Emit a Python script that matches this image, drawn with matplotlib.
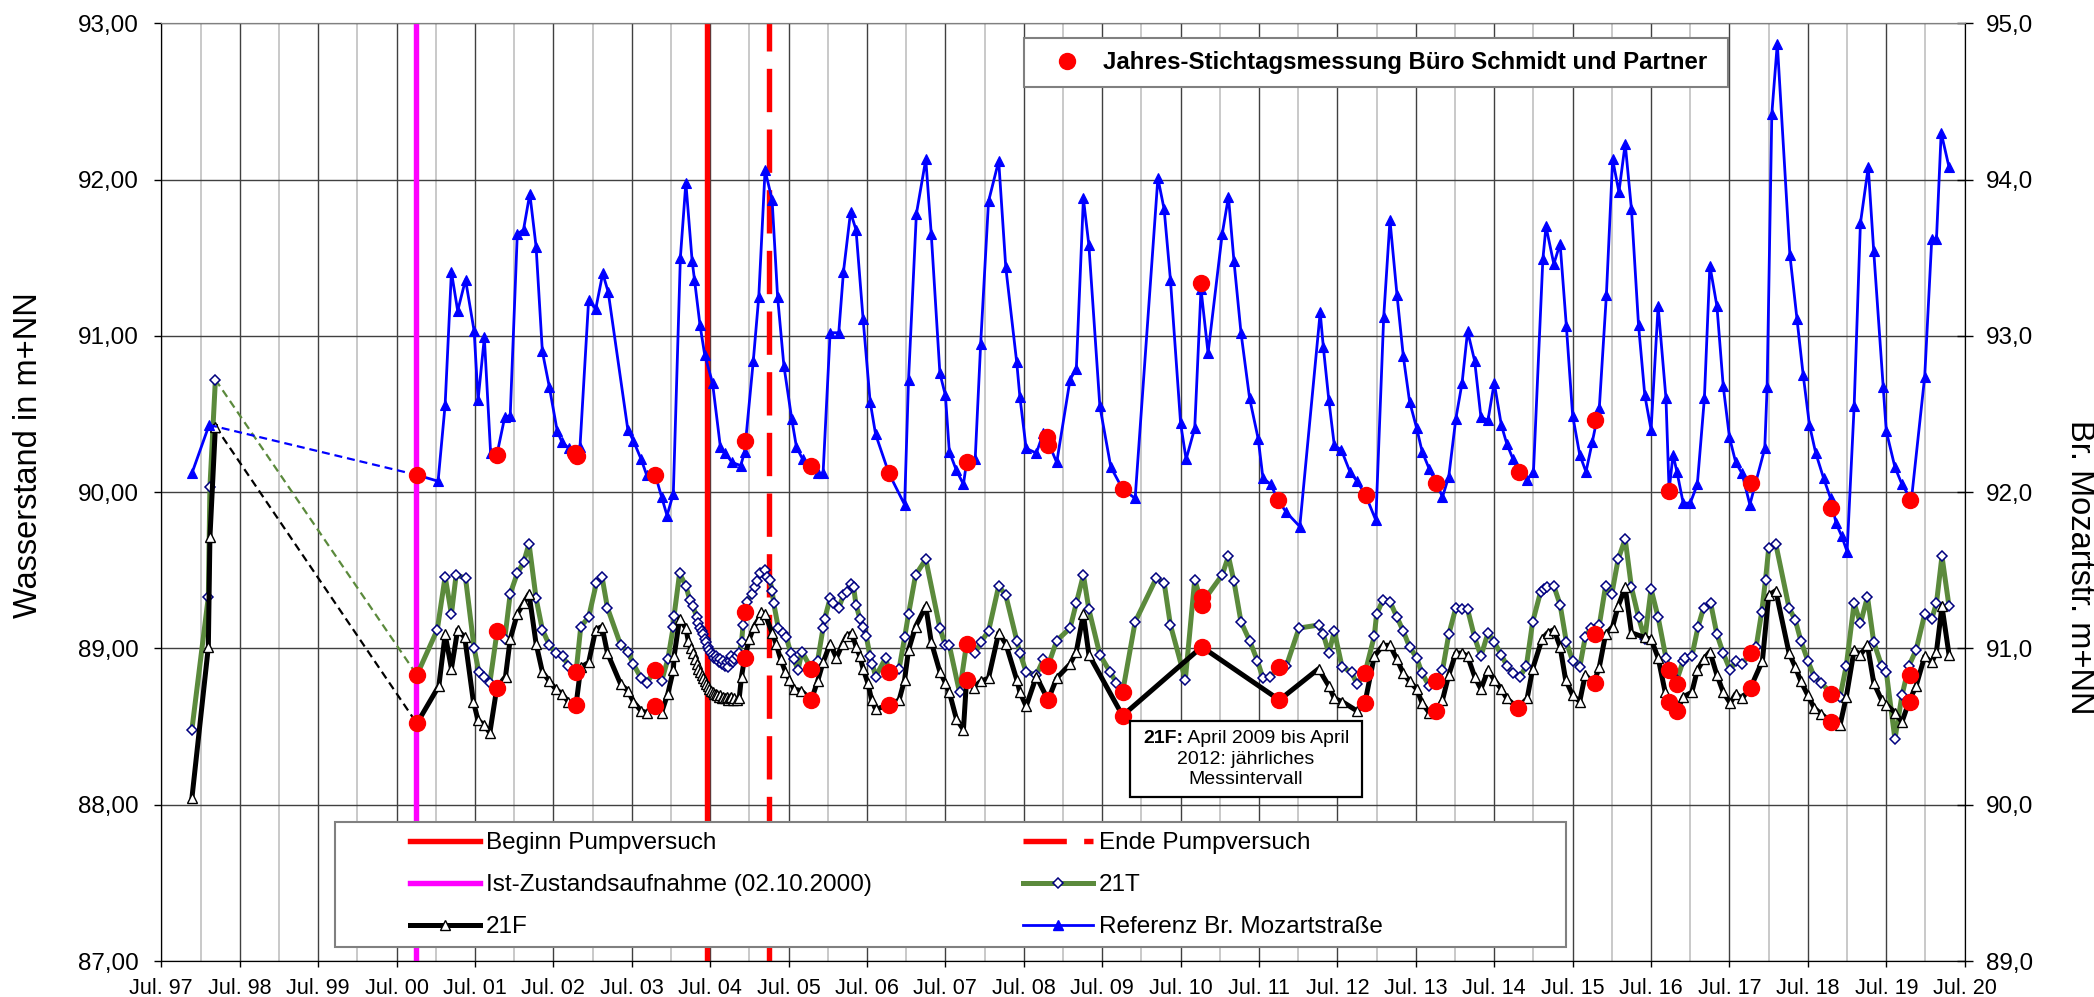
import numpy as np
import matplotlib
matplotlib.use("Agg")
import matplotlib.pyplot as plt
from matplotlib.lines import Line2D
from matplotlib.patches import Rectangle

plt.rcParams['font.family'] = ['Liberation Sans', 'DejaVu Sans']

# ---------------- data (decimal years) ----------------
x_tick_labels = ["Jul. 97", "Jul. 98", "Jul. 99", "Jul. 00", "Jul. 01", "Jul. 02", "Jul. 03",
                 "Jul. 04", "Jul. 05", "Jul. 06", "Jul. 07", "Jul. 08", "Jul. 09", "Jul. 10",
                 "Jul. 11", "Jul. 12", "Jul. 13", "Jul. 14", "Jul. 15", "Jul. 16", "Jul. 17",
                 "Jul. 18", "Jul. 19", "Jul. 20"]

ist_zustand = 2000.751   # 02.10.2000
beginn_pv = 2004.465
ende_pv = 2005.25

# Referenz Br. Mozartstrasse (right axis)
t_ref = [1997.89, 1998.11, 2000.76, 2001.03, 2001.12, 2001.20, 2001.28, 2001.38, 2001.49, 2001.54, 2001.62, 2001.70, 2001.78, 2001.88, 2001.95,
         2002.04, 2002.12, 2002.20, 2002.28, 2002.36, 2002.45, 2002.55, 2002.61, 2002.70, 2002.80, 2002.84, 2002.95,
         2003.04, 2003.13, 2003.20, 2003.45, 2003.52, 2003.62, 2003.69, 2003.80, 2003.88, 2003.95,
         2004.03, 2004.12, 2004.19, 2004.27, 2004.30, 2004.37, 2004.43, 2004.53, 2004.63, 2004.69, 2004.78, 2004.89, 2004.94,
         2005.05, 2005.12, 2005.20, 2005.29, 2005.36, 2005.44, 2005.54, 2005.60, 2005.68, 2005.79, 2005.87, 2005.94,
         2006.03, 2006.14, 2006.20, 2006.29, 2006.36, 2006.45, 2006.54, 2006.61, 2006.78, 2006.98,
         2007.03, 2007.13, 2007.25, 2007.32, 2007.43, 2007.50, 2007.55, 2007.64, 2007.73, 2007.77, 2007.88, 2007.95,
         2008.05, 2008.18, 2008.27, 2008.41, 2008.45, 2008.53, 2008.66, 2008.75, 2008.81, 2008.92,
         2009.09, 2009.17, 2009.26, 2009.33, 2009.47, 2009.61, 2009.76, 2009.92,
         2010.21, 2010.29, 2010.37, 2010.50, 2010.57, 2010.68, 2010.76, 2010.85,
         2011.03, 2011.11, 2011.18, 2011.27, 2011.38, 2011.49, 2011.55, 2011.65, 2011.74, 2011.85,
         2012.02, 2012.28, 2012.32, 2012.39, 2012.46, 2012.55, 2012.66, 2012.75, 2012.86, 2012.99,
         2013.09, 2013.17, 2013.26, 2013.34, 2013.42, 2013.51, 2013.58, 2013.67, 2013.76, 2013.84, 2013.92,
         2014.01, 2014.09, 2014.16, 2014.25, 2014.33, 2014.42, 2014.50, 2014.59, 2014.66, 2014.74, 2014.81, 2014.92,
         2015.00, 2015.12, 2015.16, 2015.26, 2015.34, 2015.42, 2015.50, 2015.59, 2015.67, 2015.75, 2015.84, 2015.93,
         2016.01, 2016.09, 2016.17, 2016.25, 2016.34, 2016.42, 2016.50, 2016.59, 2016.69, 2016.73, 2016.78, 2016.83, 2016.91, 2017.00,
         2017.09, 2017.18, 2017.25, 2017.34, 2017.42, 2017.50, 2017.58, 2017.66, 2017.76, 2017.95, 2017.98,
         2018.04, 2018.11, 2018.27, 2018.36, 2018.44, 2018.52, 2018.60, 2018.70, 2018.79, 2018.86, 2018.93,
         2019.00, 2019.09, 2019.17, 2019.27, 2019.34, 2019.46, 2019.50, 2019.61, 2019.70, 2019.82, 2019.99,
         2020.08, 2020.14, 2020.20, 2020.30]
v_ref = [92.12, 92.43, 92.11, 92.07, 92.56, 93.41, 93.16, 93.36, 93.03, 92.59, 92.99, 92.25, 92.24, 92.48, 92.49,
         93.65, 93.68, 93.91, 93.57, 92.90, 92.67, 92.39, 92.32, 92.28, 92.23, 92.29, 93.23,
         93.17, 93.40, 93.28, 92.40, 92.33, 92.21, 92.11, 92.11, 91.97, 91.85,
         91.99, 93.50, 93.98, 93.48, 93.36, 93.07, 92.88, 92.70, 92.29, 92.25, 92.19, 92.17, 92.26,
         92.84, 93.25, 94.06, 93.87, 93.25, 92.81, 92.47, 92.29, 92.21, 92.17, 92.12, 92.12,
         93.02, 93.02, 93.41, 93.79, 93.68, 93.11, 92.58, 92.37, 92.12, 91.92,
         92.72, 93.78, 94.13, 93.65, 92.76, 92.62, 92.26, 92.14, 92.05, 92.19, 92.21, 92.95,
         93.86, 94.12, 93.44, 92.83, 92.61, 92.28, 92.25, 92.38, 92.32, 92.19,
         92.72, 92.79, 93.88, 93.58, 92.55, 92.16, 92.02, 91.96,
         94.01, 93.81, 93.36, 92.44, 92.21, 92.41, 93.30, 92.89,
         93.65, 93.89, 93.48, 93.02, 92.60, 92.34, 92.09, 92.05, 91.95, 91.87,
         91.78, 93.15, 92.93, 92.59, 92.30, 92.27, 92.13, 92.07, 91.98, 91.82,
         93.12, 93.74, 93.26, 92.87, 92.58, 92.41, 92.26, 92.15, 92.06, 91.97, 92.10,
         92.47, 92.70, 93.03, 92.84, 92.48, 92.46, 92.70, 92.43, 92.31, 92.21, 92.13, 92.08,
         92.13, 93.49, 93.70, 93.46, 93.59, 93.06, 92.49, 92.24, 92.13, 92.32, 92.54, 93.26,
         94.13, 93.92, 94.23, 93.81, 93.07, 92.62, 92.40, 93.19, 92.60, 92.01, 92.24, 92.13, 91.93, 91.93,
         92.05, 92.60, 93.45, 93.19, 92.68, 92.35, 92.19, 92.12, 91.92, 92.28, 92.67,
         94.42, 94.87, 93.52, 93.11, 92.75, 92.43, 92.25, 92.09, 91.96, 91.80, 91.72,
         91.62, 92.55, 93.72, 94.08, 93.54, 92.67, 92.39, 92.16, 92.05, 91.95, 92.74,
         93.62, 93.62, 94.30, 94.08]

# 21T (left axis)
t_21t = [1997.89, 1998.10, 1998.12, 1998.19,
         2000.76, 2001.02, 2001.12, 2001.20, 2001.26, 2001.38, 2001.49, 2001.55, 2001.62, 2001.69, 2001.78, 2001.88, 2001.95,
         2002.04, 2002.12, 2002.19, 2002.28, 2002.36, 2002.45, 2002.53, 2002.62, 2002.69, 2002.79, 2002.85, 2002.95,
         2003.05, 2003.12, 2003.19, 2003.36, 2003.45, 2003.52, 2003.62, 2003.69, 2003.80, 2003.88, 2003.96,
         2004.03, 2004.04, 2004.11, 2004.19, 2004.24, 2004.28, 2004.33, 2004.35, 2004.37, 2004.39, 2004.41, 2004.43,
         2004.45, 2004.47, 2004.49, 2004.51, 2004.53, 2004.55, 2004.57, 2004.59, 2004.61, 2004.63, 2004.65, 2004.67,
         2004.69, 2004.71, 2004.73, 2004.75, 2004.77, 2004.79, 2004.81, 2004.84, 2004.87, 2004.90, 2004.92, 2004.94, 2004.97,
         2005.03, 2005.07, 2005.10, 2005.14, 2005.20, 2005.23, 2005.26, 2005.29, 2005.31, 2005.37, 2005.43, 2005.47,
         2005.53, 2005.57, 2005.62, 2005.67, 2005.79, 2005.87, 2005.94, 2005.96,
         2006.03, 2006.07, 2006.14, 2006.20, 2006.24, 2006.29, 2006.33, 2006.36, 2006.41, 2006.45, 2006.49, 2006.54,
         2006.57, 2006.61, 2006.74, 2006.78, 2006.91, 2006.98,
         2007.03, 2007.12, 2007.25, 2007.43, 2007.50, 2007.55, 2007.68, 2007.77, 2007.88, 2007.95,
         2008.05, 2008.18, 2008.27, 2008.41, 2008.45, 2008.53, 2008.66, 2008.75, 2008.81, 2008.92,
         2009.09, 2009.17, 2009.26, 2009.33, 2009.47, 2009.60, 2009.68, 2009.76, 2009.92,
         2010.19, 2010.29, 2010.37, 2010.56, 2010.68, 2010.77,
         2011.03, 2011.11, 2011.18, 2011.27, 2011.38, 2011.48, 2011.55, 2011.64, 2011.76, 2011.85,
         2012.01, 2012.26, 2012.32, 2012.39, 2012.46, 2012.56, 2012.68, 2012.75, 2012.85, 2012.97,
         2013.00, 2013.08, 2013.17, 2013.26, 2013.34, 2013.42, 2013.51, 2013.58, 2013.67, 2013.76, 2013.84, 2013.92,
         2014.01, 2014.09, 2014.16, 2014.25, 2014.33, 2014.42, 2014.50, 2014.59, 2014.66, 2014.74, 2014.83, 2014.91, 2014.99,
         2015.09, 2015.13, 2015.17, 2015.26, 2015.34, 2015.42, 2015.50, 2015.59, 2015.66, 2015.73, 2015.84, 2015.92,
         2016.00, 2016.08, 2016.17, 2016.25, 2016.34, 2016.42, 2016.50, 2016.59, 2016.69, 2016.76, 2016.83, 2016.91, 2016.93,
         2017.02, 2017.10, 2017.17, 2017.26, 2017.34, 2017.42, 2017.51, 2017.58, 2017.66, 2017.77, 2017.84, 2017.91, 2017.96,
         2018.00, 2018.09, 2018.26, 2018.34, 2018.41, 2018.50, 2018.58, 2018.67, 2018.80, 2018.91, 2018.99,
         2019.09, 2019.17, 2019.26, 2019.34, 2019.44, 2019.50, 2019.61, 2019.70, 2019.79, 2019.88, 2019.99,
         2020.08, 2020.14, 2020.21, 2020.30]
v_21t = [88.48, 89.33, 90.03, 90.72,
         88.83, 89.12, 89.46, 89.22, 89.47, 89.45, 89.00, 88.85, 88.82, 88.78, 89.10, 89.06, 89.35,
         89.48, 89.55, 89.67, 89.32, 89.12, 89.02, 88.97, 88.95, 88.89, 88.85, 89.14, 89.20,
         89.42, 89.46, 89.26, 89.02, 88.98, 88.90, 88.81, 88.78, 88.86, 88.79, 88.93,
         89.14, 89.21, 89.48, 89.40, 89.31, 89.27, 89.20, 89.16, 89.13, 89.11, 89.09, 89.06,
         89.04, 89.01, 88.99, 88.97, 88.96, 88.94, 88.95, 88.93, 88.91, 88.93, 88.90, 88.92,
         88.89, 88.91, 88.88, 88.92, 88.95, 88.91, 88.93, 88.95, 88.97, 89.04, 89.15, 89.23, 89.30,
         89.35, 89.39, 89.43, 89.48, 89.50, 89.46, 89.44, 89.37, 89.29, 89.13, 89.10, 89.07,
         88.97, 88.93, 88.86, 88.98, 88.87, 88.92, 89.13, 89.19,
         89.32, 89.29, 89.26, 89.34, 89.36, 89.41, 89.39, 89.28, 89.19, 89.14, 89.08, 88.95,
         88.90, 88.82, 88.94, 88.85, 88.87, 89.07,
         89.22, 89.47, 89.57, 89.13, 89.02, 89.02, 88.72, 89.03, 88.97, 89.04,
         89.11, 89.40, 89.34, 89.05, 88.97, 88.85, 88.83, 88.93, 88.89, 89.05,
         89.13, 89.29, 89.47, 89.25, 88.96, 88.85, 88.78, 88.72, 89.17,
         89.45, 89.42, 89.15, 88.80, 89.44, 89.29,
         89.47, 89.59, 89.43, 89.17, 89.05, 88.92, 88.81, 88.82, 88.88, 88.89,
         89.13, 89.15, 89.09, 88.97, 89.11, 88.88, 88.85, 88.77, 88.84, 89.08,
         89.22, 89.31, 89.30, 89.20, 89.11, 89.01, 88.94, 88.84, 88.76, 88.79, 88.86, 89.09,
         89.26, 89.25, 89.25, 89.07, 88.95, 89.10, 89.04, 88.96, 88.89, 88.84, 88.82, 88.89, 89.17,
         89.36, 89.38, 89.39, 89.40, 89.28, 89.04, 88.92, 88.88, 89.07, 89.13, 89.15, 89.40,
         89.35, 89.57, 89.70, 89.39, 89.20, 89.06, 89.38, 89.20, 88.94, 88.84, 88.80, 88.92, 88.94,
         88.95, 89.14, 89.26, 89.29, 89.09, 88.97, 88.86, 88.92, 88.90, 88.97, 89.01, 89.23, 89.44,
         89.64, 89.67, 89.26, 89.18, 89.05, 88.92, 88.82, 88.78, 88.71, 88.69, 88.89,
         89.29, 89.16, 89.33, 89.04, 88.89, 88.85, 88.42, 88.70, 88.89, 88.99, 89.22,
         89.19, 89.29, 89.59, 89.27]

# 21F (left axis)
t_21f = [1997.89, 1998.10, 1998.12, 1998.19,
         2000.76, 2001.04, 2001.12, 2001.20, 2001.28, 2001.37, 2001.48, 2001.54, 2001.62, 2001.69, 2001.78, 2001.89, 2001.95,
         2002.04, 2002.12, 2002.19, 2002.28, 2002.36, 2002.45, 2002.53, 2002.61, 2002.69, 2002.79, 2002.85, 2002.95,
         2003.04, 2003.12, 2003.19, 2003.36, 2003.45, 2003.52, 2003.62, 2003.69, 2003.80, 2003.88, 2003.96,
         2004.03, 2004.04, 2004.11, 2004.19, 2004.22, 2004.25, 2004.28, 2004.31, 2004.33, 2004.35, 2004.37, 2004.39,
         2004.41, 2004.43, 2004.45, 2004.47, 2004.49, 2004.51, 2004.53, 2004.55, 2004.57, 2004.59, 2004.61, 2004.63,
         2004.65, 2004.67, 2004.69, 2004.71, 2004.73, 2004.75, 2004.77, 2004.79, 2004.81, 2004.84, 2004.87, 2004.90, 2004.94,
         2005.00, 2005.06, 2005.12, 2005.15, 2005.20, 2005.29, 2005.34, 2005.40, 2005.46, 2005.51, 2005.57, 2005.66,
         2005.79, 2005.87, 2005.94,
         2006.03, 2006.11, 2006.19, 2006.24, 2006.31, 2006.36, 2006.41, 2006.45, 2006.51, 2006.56, 2006.61, 2006.78,
         2006.91, 2006.98,
         2007.03, 2007.12, 2007.25, 2007.32, 2007.43, 2007.50, 2007.55, 2007.64, 2007.73, 2007.77, 2007.86, 2007.95,
         2008.05, 2008.18, 2008.27, 2008.41, 2008.45, 2008.53, 2008.66, 2008.81, 2008.92,
         2009.09, 2009.17, 2009.26, 2009.33, 2009.76, 2010.77, 2011.76,
         2012.26, 2012.39, 2012.46, 2012.56, 2012.75, 2012.85, 2012.97,
         2013.08, 2013.17, 2013.26, 2013.34, 2013.42, 2013.51, 2013.58, 2013.67, 2013.76, 2013.84, 2013.92,
         2014.01, 2014.09, 2014.16, 2014.25, 2014.33, 2014.42, 2014.50, 2014.59, 2014.66, 2014.80, 2014.92, 2014.99,
         2015.11, 2015.18, 2015.26, 2015.34, 2015.41, 2015.50, 2015.59, 2015.66, 2015.77, 2015.84, 2015.92,
         2016.01, 2016.08, 2016.17, 2016.25, 2016.42, 2016.50, 2016.59, 2016.68, 2016.73, 2016.83, 2016.91,
         2017.02, 2017.09, 2017.17, 2017.25, 2017.34, 2017.42, 2017.51, 2017.58, 2017.66, 2017.77, 2017.92,
         2018.00, 2018.09, 2018.26, 2018.34, 2018.41, 2018.50, 2018.58, 2018.67, 2018.80, 2018.91, 2018.99,
         2019.09, 2019.17, 2019.26, 2019.34, 2019.44, 2019.50, 2019.61, 2019.70, 2019.79, 2019.88, 2019.99,
         2020.08, 2020.14, 2020.21, 2020.30]
v_21f = [88.04, 89.01, 89.71, 90.42,
         88.52, 88.76, 89.09, 88.87, 89.12, 89.07, 88.66, 88.54, 88.51, 88.46, 88.75, 88.82, 89.06,
         89.22, 89.29, 89.35, 89.03, 88.85, 88.79, 88.74, 88.71, 88.66, 88.64, 88.88, 88.91,
         89.12, 89.14, 88.97, 88.77, 88.73, 88.66, 88.60, 88.59, 88.63, 88.59, 88.71,
         88.86, 88.95, 89.19, 89.13, 89.05, 89.00, 88.97, 88.93, 88.90, 88.87, 88.85, 88.83,
         88.81, 88.79, 88.77, 88.76, 88.74, 88.73, 88.72, 88.71, 88.71, 88.70, 88.69, 88.70,
         88.68, 88.69, 88.68, 88.69, 88.67, 88.68, 88.69, 88.67, 88.68, 88.67, 88.68, 88.82, 88.94,
         89.06, 89.14, 89.19, 89.23, 89.22, 89.10, 89.03, 88.93, 88.85, 88.80, 88.74, 88.73,
         88.67, 88.79, 88.91,
         89.03, 88.94, 89.03, 89.08, 89.10, 89.01, 88.95, 88.87, 88.78, 88.67, 88.61, 88.64,
         88.67, 88.80,
         88.99, 89.14, 89.27, 89.04, 88.85, 88.78, 88.72, 88.55, 88.48, 88.80, 88.75, 88.79,
         88.81, 89.10, 89.03, 88.80, 88.72, 88.63, 88.82, 88.67, 88.81,
         88.90, 88.98, 89.22, 88.96, 88.57, 89.01, 88.67,
         88.87, 88.76, 88.68, 88.66, 88.60, 88.65, 88.95,
         89.02, 89.02, 88.93, 88.84, 88.79, 88.74, 88.65, 88.59, 88.60, 88.67, 88.83,
         88.97, 88.97, 88.95, 88.82, 88.74, 88.86, 88.80, 88.74, 88.68, 88.62, 88.68, 88.87,
         89.06, 89.10, 89.12, 89.01, 88.80, 88.70, 88.66, 88.83, 88.78, 88.88, 89.09,
         89.14, 89.27, 89.39, 89.10, 89.07, 89.06, 88.94, 88.72, 88.66, 88.60, 88.69,
         88.72, 88.86, 88.93, 88.98, 88.83, 88.72, 88.65, 88.71, 88.68, 88.75, 88.92,
         89.34, 89.37, 88.97, 88.88, 88.79, 88.70, 88.62, 88.58, 88.53, 88.51, 88.69,
         88.99, 88.96, 89.02, 88.78, 88.67, 88.64, 88.59, 88.53, 88.66, 88.76, 88.95,
         88.91, 88.98, 89.27, 88.96]

# Jahres-Stichtagsmessung Buero Schmidt und Partner
t_st_21t = [2000.76, 2001.78, 2002.79, 2003.80, 2004.94, 2005.79, 2006.78, 2007.77, 2008.81, 2009.76, 2010.77,
            2010.77, 2011.76, 2012.85, 2013.76, 2015.78, 2016.73, 2016.83, 2017.77, 2018.80, 2019.80]
v_st_21t = [88.83, 89.11, 88.85, 88.86, 89.23, 88.87, 88.85, 89.03, 88.89, 88.72, 89.33,
            89.28, 88.88, 88.84, 88.79, 89.09, 88.86, 88.77, 88.97, 88.71, 88.83]
t_st_21f = [2000.76, 2001.78, 2002.79, 2003.80, 2004.94, 2005.79, 2006.78, 2007.77, 2008.81, 2009.76, 2010.77,
            2011.76, 2012.85, 2013.76, 2014.80, 2015.78, 2016.73, 2016.83, 2017.77, 2018.80, 2019.80]
v_st_21f = [88.52, 88.75, 88.64, 88.63, 88.94, 88.67, 88.64, 88.80, 88.67, 88.57, 89.01,
            88.67, 88.65, 88.60, 88.62, 88.78, 88.66, 88.60, 88.75, 88.53, 88.66]
t_st_ref = [2000.76, 2001.78, 2002.78, 2002.80, 2003.80, 2004.94, 2005.79, 2006.78, 2007.77, 2008.79, 2008.81,
            2009.76, 2010.76, 2011.74, 2012.86, 2013.76, 2014.81, 2015.78, 2016.73, 2017.78, 2018.80, 2019.80]
v_st_ref = [92.11, 92.24, 92.25, 92.23, 92.11, 92.33, 92.17, 92.12, 92.19, 92.35, 92.30,
            92.02, 93.34, 91.95, 91.98, 92.06, 92.13, 92.46, 92.01, 92.06, 91.90, 91.95]

# ---------------- figure ----------------
W, H = 2094, 997
fig = plt.figure(figsize=(W / 100, H / 100), dpi=100)
PL, PR, PT, PB = 161.3, 1964.7, 23.3, 961.0


def fx(x):
    return x / W


def fy(y):
    return 1 - y / H


ax = fig.add_axes([fx(PL), fy(PB), (PR - PL) / W, (PB - PT) / H])
ax2 = ax.twinx()

ax.set_xlim(1997.5, 2020.5)
ax.set_ylim(87, 93)
ax2.set_ylim(89, 95)

major_x = [1997.5 + i for i in range(len(x_tick_labels))]
minor_x = [1998 + i for i in range(len(x_tick_labels) - 1)]
ax.set_xticks(major_x)
ax.set_xticklabels(x_tick_labels, fontsize=15.5)
ax.set_xticks(minor_x, minor=True)
ax.tick_params(axis='x', which='major', direction='out', length=4.5, width=1, pad=8)
ax.tick_params(axis='x', which='minor', length=0)
ax.set_yticks(np.arange(87, 93.01, 1))
ax.set_yticklabels([f"{v:.2f}".replace('.', ',') for v in np.arange(87, 93.01, 1)], fontsize=17.5)
ax.tick_params(axis='y', direction='out', length=5, width=1, pad=11)
ax2.set_yticks(np.arange(89, 95.01, 1))
ax2.set_yticklabels([f"{v:.1f}".replace('.', ',') for v in np.arange(89, 95.01, 1)], fontsize=17.5)
ax2.tick_params(axis='y', direction='inout', length=11, width=1, pad=10)

ax.grid(which='minor', axis='x', color='#c0c0c0', lw=1.2, zorder=0)
ax.grid(which='major', axis='x', color='#404040', lw=1.0, zorder=0)
ax.grid(which='major', axis='y', color='#404040', lw=1.0, zorder=0)
ax.set_axisbelow(True)
for sp in ['left', 'bottom', 'right']:
    ax.spines[sp].set_color('black')
    ax2.spines[sp].set_color('black')
ax.spines['top'].set_color('#808080')
ax2.spines['top'].set_color('#808080')

ax.set_ylabel('Wasserstand in m+NN', fontsize=23.5)
ax.yaxis.set_label_coords(-0.0734, 0.54)
ax.yaxis.label.set_va('center')
ax2.set_ylabel('Br. Mozartstr. m+NN', fontsize=23.5, rotation=270)
ax2.yaxis.set_label_coords(1.0634, 0.42)
ax2.yaxis.label.set_va('center')

# event lines
dash_ende = (0, (8, 3.2))
ax.axvline(ist_zustand, color='#ff00ff', lw=3.9, zorder=2)
ax.axvline(beginn_pv, color='#ff0000', lw=3.9, zorder=2)
ax.axvline(ende_pv, color='#ff0000', lw=3.9, ls=dash_ende, zorder=2)


def draw_series(axis, t, v, color, lw, mkw, z):
    t = np.asarray(t)
    v = np.asarray(v)
    early = t < 1999
    te, ve = t[early], v[early]
    tm, vm = t[~early], v[~early]
    axis.plot(te, ve, color=color, lw=lw, zorder=z, **mkw)
    axis.plot([te[-1], tm[0]], [ve[-1], vm[0]], color=color, lw=1.6, ls=(0, (3.6, 2.2)), zorder=z - 0.1)
    axis.plot(tm, vm, color=color, lw=lw, zorder=z, **mkw)


green = '#5b8a3c'
draw_series(ax, t_21t, v_21t, green, 3.6,
            dict(marker='D', ms=5.6, mfc='white', mec='#000080', mew=1.1), 3)
draw_series(ax, t_21f, v_21f, 'black', 3.6,
            dict(marker='^', ms=7, mfc='white', mec='black', mew=1.0), 3.5)
draw_series(ax2, t_ref, v_ref, '#0000ff', 2.0,
            dict(marker='^', ms=6.5, mfc='#0000ff', mec='#0000ff', mew=0.8), 3)

ax.plot(t_st_21t, v_st_21t, ls='none', marker='o', ms=11.5, color='#ff0000', mec='#ff0000', zorder=6)
ax.plot(t_st_21f, v_st_21f, ls='none', marker='o', ms=11.5, color='#ff0000', mec='#ff0000', zorder=6)
ax2.plot(t_st_ref, v_st_ref, ls='none', marker='o', ms=11.5, color='#ff0000', mec='#ff0000', zorder=6)

# annotation box
fig.add_artist(Rectangle((fx(1130), fy(797)), (1362 - 1130) / W, (797 - 721) / H,
                         transform=fig.transFigure, facecolor='white', edgecolor='black', lw=1.6, zorder=4))
ann_fs = 14
renderer = fig.canvas.get_renderer()
tb = fig.text(0, 0, "21F:", fontsize=ann_fs, weight='bold', ha='left', va='center', zorder=5)
tr = fig.text(0, 0, " April 2009 bis April", fontsize=ann_fs, ha='left', va='center', zorder=5)
wb = tb.get_window_extent(renderer).width
wr = tr.get_window_extent(renderer).width
x_start = 1246 - (wb + wr) / 2
tb.set_position((fx(x_start), fy(738)))
tr.set_position((fx(x_start + wb), fy(738)))
fig.text(fx(1246), fy(759), "2012: jährliches", fontsize=ann_fs, ha='center', va='center', zorder=5)
fig.text(fx(1246), fy(780), "Messintervall", fontsize=ann_fs, ha='center', va='center', zorder=5)

# legend top
fig.add_artist(Rectangle((fx(1024), fy(87)), (1728 - 1024) / W, (87 - 38) / H,
                         transform=fig.transFigure, facecolor='white', edgecolor='#808080', lw=1.5, zorder=4))
h_dot = Line2D([], [], ls='none', marker='o', ms=11.5, color='#ff0000')
leg1 = fig.legend([h_dot], ['Jahres-Stichtagsmessung Büro Schmidt und Partner'], loc='center left',
                  bbox_to_anchor=(fx(1053), fy(63)), frameon=False,
                  prop={'weight': 'bold', 'size': 17.3}, handlelength=1.2, handletextpad=0.9,
                  borderpad=0, borderaxespad=0)
leg1.set_zorder(6)

# legend bottom
fig.add_artist(Rectangle((fx(335), fy(947)), (1566 - 335) / W, (947 - 822) / H,
                         transform=fig.transFigure, facecolor='white', edgecolor='#808080', lw=1.5, zorder=4))
handles = [
    Line2D([], [], color='#ff0000', lw=3.9),
    Line2D([], [], color='#ff00ff', lw=3.9),
    Line2D([], [], color='black', lw=3.6, marker='^', ms=7, mfc='white', mec='black'),
    Line2D([], [], color='#ff0000', lw=3.9, ls=dash_ende),
    Line2D([], [], color=green, lw=3.6, marker='D', ms=5.6, mfc='white', mec='#000080', mew=1.1),
    Line2D([], [], color='#0000ff', lw=2.0, marker='^', ms=6.5, mfc='#0000ff', mec='#0000ff'),
]
labels = ['Beginn Pumpversuch', 'Ist-Zustandsaufnahme (02.10.2000)', '21F',
          'Ende Pumpversuch', '21T', 'Referenz Br. Mozartstraße']
leg2 = fig.legend(handles, labels, ncol=2, loc='upper left', bbox_to_anchor=(fx(410), fy(832)),
                  frameon=False, fontsize=17.5, handlelength=2.88, handletextpad=0.25,
                  columnspacing=6.2, labelspacing=0.83, borderpad=0, borderaxespad=0)
leg2.set_zorder(6)

fig.savefig('out.png', dpi=100)
